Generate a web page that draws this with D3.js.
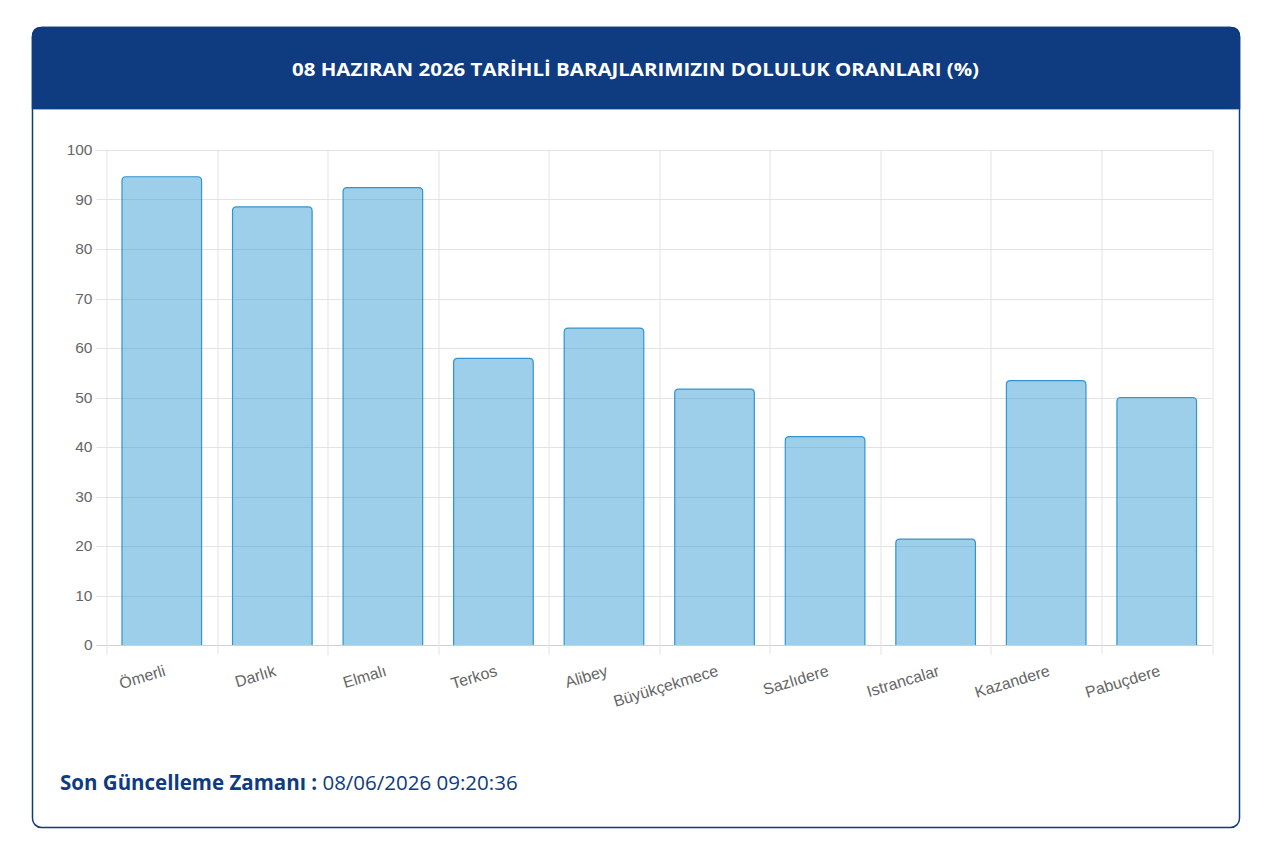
<!DOCTYPE html>
<meta charset="utf-8">
<style>
body { margin: 0; background: #fff; font-family: "Liberation Sans", Arial, sans-serif; }
.grid line { stroke: #e3e3e3; stroke-width: 1px; }
.axis text { fill: #666; font-family: "Liberation Sans", Arial, sans-serif; }
.bar { fill: rgba(60,160,215,0.5); stroke: rgb(50,148,208); stroke-width: 1.2px; }
</style>
<body>
<script src="https://d3js.org/d3.v7.min.js"></script>
<script>

// the data
var dams = ["Ömerli", "Darlık", "Elmalı", "Terkos", "Alibey", "Büyükçekmece",
            "Sazlıdere", "Istrancalar", "Kazandere", "Pabuçdere"];
var fill = [94.6, 88.5, 92.4, 57.9, 64.0, 51.7, 42.1, 21.4, 53.4, 50.0];
var yTicks = [0, 10, 20, 30, 40, 50, 60, 70, 80, 90, 100];
var title = "08 HAZIRAN 2026 TARİHLİ BARAJLARIMIZIN DOLULUK ORANLARI (%)";
var updateLabel = "Son Güncelleme Zamanı :";
var updateTime = "08/06/2026 09:20:36";

var W = 1280, H = 853;
var navy = "#0f3b80";

var svg = d3.select("body").append("svg")
    .attr("width", W)
    .attr("height", H);

// card
var card = {x: 32.5, y: 27.5, w: 1207, h: 800, r: 9};
svg.append("rect")
    .attr("x", card.x).attr("y", card.y)
    .attr("width", card.w).attr("height", card.h)
    .attr("rx", card.r)
    .attr("fill", "#fff")
    .attr("stroke", navy).attr("stroke-width", 1.5);

// header, rounded only on top
var hh = 81;
svg.append("path")
    .attr("d", "M" + card.x + "," + (card.y + hh) +
      " V" + (card.y + card.r) +
      " Q" + card.x + "," + card.y + " " + (card.x + card.r) + "," + card.y +
      " H" + (card.x + card.w - card.r) +
      " Q" + (card.x + card.w) + "," + card.y + " " + (card.x + card.w) + "," + (card.y + card.r) +
      " V" + (card.y + hh) + " Z")
    .attr("fill", navy)
    .attr("stroke", navy).attr("stroke-width", 1.5);
svg.append("line")
    .attr("x1", card.x + 1).attr("x2", card.x + card.w - 1)
    .attr("y1", card.y + hh + 1).attr("y2", card.y + hh + 1)
    .attr("stroke", "#8fb4e0").attr("stroke-width", 1);

svg.append("text")
    .attr("x", 292).attr("y", 76)
    .attr("textLength", 687)
    .attr("lengthAdjust", "spacingAndGlyphs")
    .attr("fill", "#fff")
    .style("font-family", "'Open Sans', Lato, sans-serif")
    .style("font-weight", "bold")
    .style("font-size", "17.5px")
    .text(title);

// plot area
var margin = {top: 150, left: 106.5},
    width = 1212 - 106.5,
    height = 645 - 150;

var g = svg.append("g")
    .attr("transform", "translate(" + margin.left + "," + margin.top + ")");

var x = d3.scaleBand().domain(dams).range([0, width]).paddingInner(0).paddingOuter(0);
var y = d3.scaleLinear().domain([0, 100]).range([height, 0]);

// horizontal grid (extends left as ticks)
g.append("g").attr("class", "grid")
  .selectAll("line").data(yTicks).enter().append("line")
    .attr("x1", -10).attr("x2", width)
    .attr("y1", function(d) { return Math.round(y(d)) + 0.5; })
    .attr("y2", function(d) { return Math.round(y(d)) + 0.5; })
    .style("stroke", function(d) { return d === 0 ? "#d0d0d0" : null; });

// vertical grid (category boundaries, extend down as ticks)
var bounds = dams.map(function(d) { return x(d); }).concat([width]);
g.append("g").attr("class", "grid")
  .selectAll("line").data(bounds).enter().append("line")
    .attr("x1", function(d) { return Math.round(d) + 0.5; })
    .attr("x2", function(d) { return Math.round(d) + 0.5; })
    .attr("y1", 0).attr("y2", height + 10);

// y axis labels
var yAxis = g.append("g").attr("class", "axis")
    .call(d3.axisLeft(y).tickValues(yTicks).tickSize(0).tickPadding(14));
yAxis.select(".domain").remove();
yAxis.selectAll("text").style("font-size", "15.5px");

// bars, rounded top corners
var bw = x.bandwidth() * 0.72, rr = 4;
function barPath(d, i) {
  var x0 = x(dams[i]) + (x.bandwidth() - bw) / 2, x1 = x0 + bw;
  var y0 = y(d), y1 = y(0);
  return "M" + x0 + "," + y1 + " V" + (y0 + rr) +
    " Q" + x0 + "," + y0 + " " + (x0 + rr) + "," + y0 +
    " H" + (x1 - rr) +
    " Q" + x1 + "," + y0 + " " + x1 + "," + (y0 + rr) +
    " V" + y1;
}
g.selectAll(".bar").data(fill).enter().append("path")
    .attr("class", "bar")
    .attr("d", barPath);

// rotated x labels
g.append("g").attr("class", "axis")
  .selectAll("text").data(dams).enter().append("text")
    .attr("transform", function(d) {
      return "translate(" + (x(d) + x.bandwidth() / 2 + 3) + "," + (height + 25) + ") rotate(-17)";
    })
    .attr("text-anchor", "end")
    .attr("dy", "0.35em")
    .style("font-size", "16px")
    .text(function(d) { return d; });

// footer
var foot = svg.append("text")
    .attr("x", 60).attr("y", 790)
    .style("font-family", "'Open Sans', Lato, sans-serif")
    .style("font-size", "20.5px")
    .attr("fill", navy);
foot.append("tspan").style("font-weight", "bold").text(updateLabel + " ");
foot.append("tspan").text(updateTime);

</script>
</body>
